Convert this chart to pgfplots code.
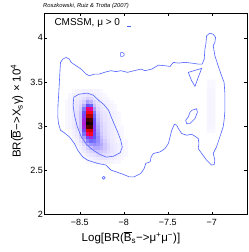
\documentclass[border=0pt]{standalone}
\usepackage{fontspec}
\setmainfont{Liberation Sans}
\usepackage{pgfplots}
\pgfplotsset{compat=1.18}
\definecolor{cblue}{RGB}{80,100,255}
\begin{document}
\begin{tikzpicture}
\begin{axis}[
 at={(0,0)}, anchor=south west,
 width=202.5pt, height=201pt, scale only axis,
 clip mode=individual,
 xmin=-8.9, xmax=-6.6, ymin=2, ymax=4.28,
 xtick={-8.5,-8,-7.5,-7}, xticklabels={{−8.5},{−8},{−7.5},{−7}},
 ytick={2,2.5,3,3.5,4}, yticklabels={{2},{2.5},{3},{3.5},{4}},
 tick align=inside, major tick length=2.5pt,
 xtick pos=both, ytick pos=both, xticklabel pos=lower, yticklabel pos=left,
 tick style={black, line width=0.4pt},
 axis line style={line width=0.6pt},
 tick label style={font=\fontsize{9}{10}\selectfont},
 yticklabel style={inner xsep=1.5pt},
 xticklabel style={yshift=-1.7pt},
 xlabel={Log[BR(\(\overline{\mbox{B}}\)\textsubscript{s}−>μ\textsuperscript{+}μ\textsuperscript{−})]},
 xlabel style={at={(axis description cs:0.427,-0.137)}, anchor=base, font=\fontsize{11.5}{13}\selectfont},
 ylabel={BR(\(\overline{\mbox{B}}\)−>X\textsubscript{s}γ) × 10\textsuperscript{4}},
 ylabel style={at={(axis description cs:-0.1175,0.513)}, anchor=base, font=\fontsize{11.5}{13}\selectfont},
 colormap={heat}{rgb255(0pt)=(255,255,255); rgb255(5pt)=(240,236,255); rgb255(15pt)=(205,195,255); rgb255(28pt)=(140,130,255); rgb255(38pt)=(90,90,250); rgb255(48pt)=(150,50,240); rgb255(58pt)=(230,0,150); rgb255(68pt)=(255,0,40); rgb255(80pt)=(230,0,0); rgb255(90pt)=(140,0,0); rgb255(100pt)=(0,0,0)},
 point meta min=0, point meta max=1,
]
\addplot[matrix plot*, mesh/cols=19, point meta=explicit] table[row sep=\\, meta=c]{
x y c\\
-8.65 2.60 0\\ -8.61 2.60 0\\ -8.57 2.60 0\\ -8.53 2.60 0\\ -8.49 2.60 0\\ -8.45 2.60 0\\ -8.41 2.60 0.02\\ -8.37 2.60 0.02\\ -8.33 2.60 0.03\\ -8.29 2.60 0.04\\ -8.25 2.60 0.04\\ -8.21 2.60 0.04\\ -8.17 2.60 0.04\\ -8.13 2.60 0.03\\ -8.09 2.60 0.02\\ -8.05 2.60 0.02\\ -8.01 2.60 0\\ -7.97 2.60 0\\ -7.93 2.60 0\\
-8.65 2.64 0\\ -8.61 2.64 0\\ -8.57 2.64 0\\ -8.53 2.64 0\\ -8.49 2.64 0\\ -8.45 2.64 0.02\\ -8.41 2.64 0.03\\ -8.37 2.64 0.04\\ -8.33 2.64 0.05\\ -8.29 2.64 0.06\\ -8.25 2.64 0.07\\ -8.21 2.64 0.07\\ -8.17 2.64 0.06\\ -8.13 2.64 0.05\\ -8.09 2.64 0.04\\ -8.05 2.64 0.03\\ -8.01 2.64 0.02\\ -7.97 2.64 0\\ -7.93 2.64 0\\
-8.65 2.68 0\\ -8.61 2.68 0\\ -8.57 2.68 0\\ -8.53 2.68 0\\ -8.49 2.68 0.02\\ -8.45 2.68 0.03\\ -8.41 2.68 0.05\\ -8.37 2.68 0.07\\ -8.33 2.68 0.08\\ -8.29 2.68 0.10\\ -8.25 2.68 0.10\\ -8.21 2.68 0.09\\ -8.17 2.68 0.08\\ -8.13 2.68 0.06\\ -8.09 2.68 0.05\\ -8.05 2.68 0.04\\ -8.01 2.68 0.03\\ -7.97 2.68 0.02\\ -7.93 2.68 0\\
-8.65 2.72 0\\ -8.61 2.72 0\\ -8.57 2.72 0\\ -8.53 2.72 0\\ -8.49 2.72 0.03\\ -8.45 2.72 0.05\\ -8.41 2.72 0.08\\ -8.37 2.72 0.10\\ -8.33 2.72 0.13\\ -8.29 2.72 0.15\\ -8.25 2.72 0.14\\ -8.21 2.72 0.12\\ -8.17 2.72 0.09\\ -8.13 2.72 0.07\\ -8.09 2.72 0.05\\ -8.05 2.72 0.04\\ -8.01 2.72 0.03\\ -7.97 2.72 0.02\\ -7.93 2.72 0\\
-8.65 2.76 0\\ -8.61 2.76 0\\ -8.57 2.76 0\\ -8.53 2.76 0.02\\ -8.49 2.76 0.04\\ -8.45 2.76 0.07\\ -8.41 2.76 0.12\\ -8.37 2.76 0.16\\ -8.33 2.76 0.20\\ -8.29 2.76 0.20\\ -8.25 2.76 0.18\\ -8.21 2.76 0.14\\ -8.17 2.76 0.10\\ -8.13 2.76 0.07\\ -8.09 2.76 0.05\\ -8.05 2.76 0.04\\ -8.01 2.76 0.03\\ -7.97 2.76 0.02\\ -7.93 2.76 0\\
-8.65 2.80 0\\ -8.61 2.80 0\\ -8.57 2.80 0\\ -8.53 2.80 0.03\\ -8.49 2.80 0.05\\ -8.45 2.80 0.10\\ -8.41 2.80 0.18\\ -8.37 2.80 0.24\\ -8.33 2.80 0.26\\ -8.29 2.80 0.24\\ -8.25 2.80 0.20\\ -8.21 2.80 0.14\\ -8.17 2.80 0.10\\ -8.13 2.80 0.06\\ -8.09 2.80 0.05\\ -8.05 2.80 0.04\\ -8.01 2.80 0.03\\ -7.97 2.80 0.02\\ -7.93 2.80 0\\
-8.65 2.84 0\\ -8.61 2.84 0\\ -8.57 2.84 0.02\\ -8.53 2.84 0.04\\ -8.49 2.84 0.08\\ -8.45 2.84 0.15\\ -8.41 2.84 0.28\\ -8.37 2.84 0.34\\ -8.33 2.84 0.32\\ -8.29 2.84 0.26\\ -8.25 2.84 0.18\\ -8.21 2.84 0.12\\ -8.17 2.84 0.08\\ -8.13 2.84 0.06\\ -8.09 2.84 0.04\\ -8.05 2.84 0.03\\ -8.01 2.84 0.02\\ -7.97 2.84 0.02\\ -7.93 2.84 0\\
-8.65 2.88 0\\ -8.61 2.88 0\\ -8.57 2.88 0.03\\ -8.53 2.88 0.05\\ -8.49 2.88 0.10\\ -8.45 2.88 0.22\\ -8.41 2.88 0.42\\ -8.37 2.88 0.50\\ -8.33 2.88 0.38\\ -8.29 2.88 0.26\\ -8.25 2.88 0.16\\ -8.21 2.88 0.10\\ -8.17 2.88 0.07\\ -8.13 2.88 0.05\\ -8.09 2.88 0.04\\ -8.05 2.88 0.03\\ -8.01 2.88 0.02\\ -7.97 2.88 0\\ -7.93 2.88 0\\
-8.65 2.92 0\\ -8.61 2.92 0.02\\ -8.57 2.92 0.04\\ -8.53 2.92 0.06\\ -8.49 2.92 0.12\\ -8.45 2.92 0.32\\ -8.41 2.92 0.62\\ -8.37 2.92 0.70\\ -8.33 2.92 0.42\\ -8.29 2.92 0.24\\ -8.25 2.92 0.14\\ -8.21 2.92 0.09\\ -8.17 2.92 0.07\\ -8.13 2.92 0.05\\ -8.09 2.92 0.04\\ -8.05 2.92 0.03\\ -8.01 2.92 0.02\\ -7.97 2.92 0\\ -7.93 2.92 0\\
-8.65 2.96 0\\ -8.61 2.96 0.02\\ -8.57 2.96 0.04\\ -8.53 2.96 0.07\\ -8.49 2.96 0.14\\ -8.45 2.96 0.42\\ -8.41 2.96 0.80\\ -8.37 2.96 0.82\\ -8.33 2.96 0.45\\ -8.29 2.96 0.22\\ -8.25 2.96 0.12\\ -8.21 2.96 0.09\\ -8.17 2.96 0.06\\ -8.13 2.96 0.05\\ -8.09 2.96 0.04\\ -8.05 2.96 0.03\\ -8.01 2.96 0.02\\ -7.97 2.96 0\\ -7.93 2.96 0\\
-8.65 3.00 0.02\\ -8.61 3.00 0.03\\ -8.57 3.00 0.05\\ -8.53 3.00 0.08\\ -8.49 3.00 0.15\\ -8.45 3.00 0.50\\ -8.41 3.00 0.94\\ -8.37 3.00 0.95\\ -8.33 3.00 0.45\\ -8.29 3.00 0.20\\ -8.25 3.00 0.12\\ -8.21 3.00 0.08\\ -8.17 3.00 0.06\\ -8.13 3.00 0.05\\ -8.09 3.00 0.04\\ -8.05 3.00 0.02\\ -8.01 3.00 0.02\\ -7.97 3.00 0\\ -7.93 3.00 0\\
-8.65 3.04 0.02\\ -8.61 3.04 0.03\\ -8.57 3.04 0.05\\ -8.53 3.04 0.08\\ -8.49 3.04 0.15\\ -8.45 3.04 0.52\\ -8.41 3.04 1.00\\ -8.37 3.04 0.98\\ -8.33 3.04 0.42\\ -8.29 3.04 0.18\\ -8.25 3.04 0.11\\ -8.21 3.04 0.08\\ -8.17 3.04 0.06\\ -8.13 3.04 0.05\\ -8.09 3.04 0.03\\ -8.05 3.04 0.02\\ -8.01 3.04 0\\ -7.97 3.04 0\\ -7.93 3.04 0\\
-8.65 3.08 0.02\\ -8.61 3.08 0.03\\ -8.57 3.08 0.05\\ -8.53 3.08 0.08\\ -8.49 3.08 0.15\\ -8.45 3.08 0.50\\ -8.41 3.08 0.96\\ -8.37 3.08 0.95\\ -8.33 3.08 0.40\\ -8.29 3.08 0.16\\ -8.25 3.08 0.10\\ -8.21 3.08 0.07\\ -8.17 3.08 0.06\\ -8.13 3.08 0.04\\ -8.09 3.08 0.03\\ -8.05 3.08 0.02\\ -8.01 3.08 0\\ -7.97 3.08 0\\ -7.93 3.08 0\\
-8.65 3.12 0.02\\ -8.61 3.12 0.03\\ -8.57 3.12 0.05\\ -8.53 3.12 0.08\\ -8.49 3.12 0.15\\ -8.45 3.12 0.45\\ -8.41 3.12 0.86\\ -8.37 3.12 0.86\\ -8.33 3.12 0.35\\ -8.29 3.12 0.14\\ -8.25 3.12 0.09\\ -8.21 3.12 0.07\\ -8.17 3.12 0.05\\ -8.13 3.12 0.04\\ -8.09 3.12 0.03\\ -8.05 3.12 0.02\\ -8.01 3.12 0\\ -7.97 3.12 0\\ -7.93 3.12 0\\
-8.65 3.16 0.02\\ -8.61 3.16 0.03\\ -8.57 3.16 0.05\\ -8.53 3.16 0.08\\ -8.49 3.16 0.14\\ -8.45 3.16 0.40\\ -8.41 3.16 0.75\\ -8.37 3.16 0.72\\ -8.33 3.16 0.30\\ -8.29 3.16 0.12\\ -8.25 3.16 0.08\\ -8.21 3.16 0.06\\ -8.17 3.16 0.05\\ -8.13 3.16 0.04\\ -8.09 3.16 0.03\\ -8.05 3.16 0.02\\ -8.01 3.16 0\\ -7.97 3.16 0\\ -7.93 3.16 0\\
-8.65 3.20 0.02\\ -8.61 3.20 0.03\\ -8.57 3.20 0.05\\ -8.53 3.20 0.07\\ -8.49 3.20 0.12\\ -8.45 3.20 0.30\\ -8.41 3.20 0.62\\ -8.37 3.20 0.58\\ -8.33 3.20 0.22\\ -8.29 3.20 0.10\\ -8.25 3.20 0.07\\ -8.21 3.20 0.05\\ -8.17 3.20 0.04\\ -8.13 3.20 0.03\\ -8.09 3.20 0.02\\ -8.05 3.20 0\\ -8.01 3.20 0\\ -7.97 3.20 0\\ -7.93 3.20 0\\
-8.65 3.24 0.02\\ -8.61 3.24 0.03\\ -8.57 3.24 0.05\\ -8.53 3.24 0.07\\ -8.49 3.24 0.10\\ -8.45 3.24 0.20\\ -8.41 3.24 0.40\\ -8.37 3.24 0.35\\ -8.33 3.24 0.15\\ -8.29 3.24 0.08\\ -8.25 3.24 0.06\\ -8.21 3.24 0.05\\ -8.17 3.24 0.04\\ -8.13 3.24 0.03\\ -8.09 3.24 0.02\\ -8.05 3.24 0\\ -8.01 3.24 0\\ -7.97 3.24 0\\ -7.93 3.24 0\\
-8.65 3.28 0.02\\ -8.61 3.28 0.03\\ -8.57 3.28 0.05\\ -8.53 3.28 0.06\\ -8.49 3.28 0.08\\ -8.45 3.28 0.12\\ -8.41 3.28 0.22\\ -8.37 3.28 0.18\\ -8.33 3.28 0.10\\ -8.29 3.28 0.07\\ -8.25 3.28 0.05\\ -8.21 3.28 0.04\\ -8.17 3.28 0.03\\ -8.13 3.28 0.02\\ -8.09 3.28 0\\ -8.05 3.28 0\\ -8.01 3.28 0\\ -7.97 3.28 0\\ -7.93 3.28 0\\
-8.65 3.32 0\\ -8.61 3.32 0.03\\ -8.57 3.32 0.04\\ -8.53 3.32 0.05\\ -8.49 3.32 0.06\\ -8.45 3.32 0.08\\ -8.41 3.32 0.12\\ -8.37 3.32 0.10\\ -8.33 3.32 0.07\\ -8.29 3.32 0.05\\ -8.25 3.32 0.04\\ -8.21 3.32 0.03\\ -8.17 3.32 0.02\\ -8.13 3.32 0\\ -8.09 3.32 0\\ -8.05 3.32 0\\ -8.01 3.32 0\\ -7.97 3.32 0\\ -7.93 3.32 0\\
-8.65 3.36 0\\ -8.61 3.36 0.02\\ -8.57 3.36 0.04\\ -8.53 3.36 0.04\\ -8.49 3.36 0.05\\ -8.45 3.36 0.06\\ -8.41 3.36 0.07\\ -8.37 3.36 0.06\\ -8.33 3.36 0.05\\ -8.29 3.36 0.04\\ -8.25 3.36 0.03\\ -8.21 3.36 0.02\\ -8.17 3.36 0\\ -8.13 3.36 0\\ -8.09 3.36 0\\ -8.05 3.36 0\\ -8.01 3.36 0\\ -7.97 3.36 0\\ -7.93 3.36 0\\
-8.65 3.40 0\\ -8.61 3.40 0\\ -8.57 3.40 0.02\\ -8.53 3.40 0.03\\ -8.49 3.40 0.03\\ -8.45 3.40 0.04\\ -8.41 3.40 0.04\\ -8.37 3.40 0.04\\ -8.33 3.40 0.03\\ -8.29 3.40 0.03\\ -8.25 3.40 0.02\\ -8.21 3.40 0\\ -8.17 3.40 0\\ -8.13 3.40 0\\ -8.09 3.40 0\\ -8.05 3.40 0\\ -8.01 3.40 0\\ -7.97 3.40 0\\ -7.93 3.40 0\\
};
\addplot[matrix plot*, mesh/cols=2, point meta=explicit] table[row sep=\\, meta=c]{
x y c\\
-7.03 2.95 0.02\\ -6.985 2.95 0.02\\
-7.03 3.00 0.025\\ -6.985 3.00 0.025\\
-7.03 3.05 0.03\\ -6.985 3.05 0.03\\
-7.03 3.10 0.03\\ -6.985 3.10 0.03\\
-7.03 3.15 0.03\\ -6.985 3.15 0.03\\
-7.03 3.20 0.03\\ -6.985 3.20 0.03\\
-7.03 3.25 0.03\\ -6.985 3.25 0.03\\
-7.03 3.30 0.03\\ -6.985 3.30 0.03\\
-7.03 3.35 0.025\\ -6.985 3.35 0.025\\
-7.03 3.40 0.025\\ -6.985 3.40 0.025\\
-7.03 3.45 0.02\\ -6.985 3.45 0.02\\
-7.03 3.50 0.02\\ -6.985 3.50 0.02\\
};
% outer contour
\addplot[cblue, line width=0.6pt] coordinates {
(-8.718,3.722) (-8.692,3.759) (-8.654,3.778) (-8.617,3.759) (-8.597,3.722) (-8.541,3.684) (-8.484,3.646) (-8.428,3.589) (-8.390,3.571) (-8.334,3.589) (-8.277,3.589) (-8.221,3.609) (-8.145,3.628) (-8.088,3.617) (-8.032,3.628) (-7.957,3.609) (-7.881,3.628) (-7.805,3.646) (-7.757,3.628) (-7.681,3.646) (-7.606,3.691) (-7.531,3.684) (-7.474,3.676) (-7.437,3.722) (-7.380,3.714) (-7.304,3.722) (-7.229,3.714) (-7.154,3.703) (-7.109,3.703) (-7.086,3.759) (-7.078,3.872) (-7.067,3.929) (-7.059,4.024) (-7.022,4.053) (-6.984,4.042) (-6.957,4.005) (-6.965,3.948) (-6.984,3.911) (-6.965,3.798) (-6.928,3.684) (-6.889,3.571) (-6.860,3.495) (-6.852,3.382) (-6.852,3.269) (-6.852,3.156) (-6.860,3.066) (-6.871,2.990) (-6.908,2.877) (-6.946,2.764) (-6.984,2.689) (-6.965,2.613) (-6.973,2.564) (-7.002,2.557) (-7.059,2.613) (-7.115,2.689) (-7.154,2.745) (-7.146,2.802) (-7.154,2.859) (-7.191,2.885) (-7.229,2.907) (-7.285,2.896) (-7.342,2.915) (-7.380,2.972) (-7.398,3.009) (-7.425,3.020) (-7.455,2.952) (-7.474,2.877) (-7.493,2.802) (-7.531,2.745) (-7.587,2.707) (-7.663,2.689) (-7.689,2.650) (-7.700,2.594) (-7.749,2.576) (-7.768,2.519) (-7.805,2.463) (-7.881,2.424) (-7.938,2.424) (-8.014,2.455) (-8.088,2.481) (-8.145,2.500) (-8.201,2.557) (-8.296,2.576) (-8.353,2.594) (-8.410,2.613) (-8.466,2.650) (-8.523,2.726) (-8.560,2.802) (-8.617,2.877) (-8.673,2.922) (-8.718,2.952) (-8.741,3.028) (-8.749,3.103) (-8.747,3.235) (-8.738,3.371) (-8.730,3.518) (-8.724,3.631) (-8.718,3.722)
};
% small island loops
\addplot[cblue, line width=0.6pt] coordinates {
(-7.225,3.179) (-7.172,3.196) (-7.163,3.156) (-7.191,3.085) (-7.248,3.028) (-7.285,3.026) (-7.296,3.066) (-7.267,3.103) (-7.248,3.156) (-7.225,3.179)
};
\addplot[cblue, line width=0.6pt] coordinates {
(-7.267,3.609) (-7.115,3.654) (-7.154,3.552) (-7.191,3.450) (-7.229,3.515) (-7.267,3.609)
};
\addplot[cblue, line width=0.6pt] coordinates {
(-7.955,4.128) (-7.925,4.128) (-7.925,4.136) (-7.955,4.136) (-7.955,4.128)
};
\addplot[cblue, line width=0.6pt] coordinates {
(-8.035,3.835) (-8.015,3.835) (-7.995,3.820) (-7.995,3.800) (-8.015,3.790) (-8.035,3.790) (-8.035,3.835)
};
\addplot[cblue, line width=0.6pt] coordinates {
(-8.245,2.413) (-8.228,2.430) (-8.211,2.413) (-8.228,2.396) (-8.245,2.413)
};
% inner contour
\addplot[cblue, line width=0.6pt] coordinates {
(-8.568,3.326) (-8.511,3.360) (-8.416,3.374) (-8.342,3.348) (-8.285,3.292) (-8.229,3.247) (-8.172,3.179) (-8.141,3.100) (-8.107,3.020) (-8.068,2.930) (-8.034,2.839) (-8.017,2.760) (-8.040,2.698) (-8.115,2.658) (-8.198,2.647) (-8.277,2.681) (-8.356,2.732) (-8.424,2.794) (-8.486,2.885) (-8.529,2.998) (-8.560,3.122) (-8.575,3.235) (-8.568,3.326)
};
\node[anchor=base west, font=\fontsize{10}{12}\selectfont] at (axis description cs:0.032,0.941) {CMSSM, μ > 0};
\node[anchor=base west, font=\itshape\fontsize{5.8}{7}\selectfont, inner sep=0pt] at (axis description cs:-0.0074,1.029) {Roszkowski, Ruiz \& Trotta (2007)};
\end{axis}
\pgfresetboundingbox
\path[use as bounding box] (-44.5pt,-37.8pt) rectangle (204.5pt,214.2pt);
\end{tikzpicture}
\end{document}
